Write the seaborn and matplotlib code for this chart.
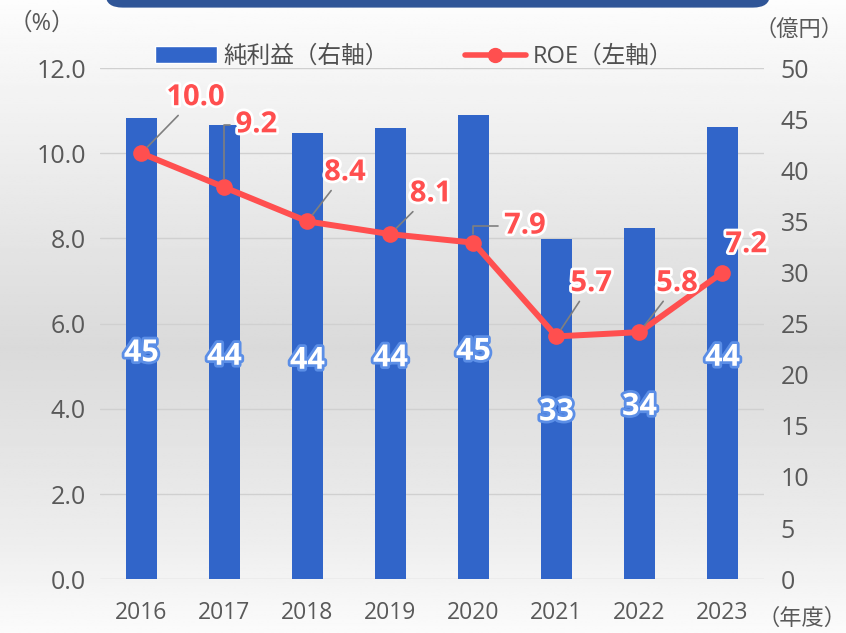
import numpy as np
import pandas as pd
import matplotlib
matplotlib.use("Agg")
import matplotlib.pyplot as plt
import matplotlib.patheffects as pe
from matplotlib.patches import FancyBboxPatch
from matplotlib.lines import Line2D
from matplotlib.patches import Patch
import seaborn as sns

# データ
years = ["2016", "2017", "2018", "2019", "2020", "2021", "2022", "2023"]
net_income = [45.1, 44.4, 43.6, 44.1, 45.4, 33.3, 34.4, 44.2]   # 億円（右軸）
roe = [10.0, 9.2, 8.4, 8.1, 7.9, 5.7, 5.8, 7.2]                  # %（左軸）

# ラベル位置のずらし（ポイント）
roe_offsets = [(39, 40), (23, 45), (27, 35), (29, 29), (37, 12), (25, 38), (27, 35), (17, 20)]
angled = [False, True, False, False, True, False, False, False]

sns.set_theme(style="white")
plt.rcParams["font.family"] = ["Open Sans", "Noto Sans CJK JP", "DejaVu Sans"]

BLUE = "#3165C9"
RED = "#FF4F4F"
GRAY = "#595959"

df = pd.DataFrame({"year": years, "income": net_income, "roe": roe})

fig = plt.figure(figsize=(8.46, 6.33), dpi=100)

# 背景グラデーション
bg = fig.add_axes([0, 0, 1, 1], zorder=-10)
grad = np.interp(np.linspace(0, 1, 300), [0, 0.12, 0.55, 0.85, 1.0], [0.99, 0.96, 0.855, 0.93, 0.985])
bg.imshow(np.repeat(grad[:, None], 2, axis=1), cmap="gray", vmin=0, vmax=1,
          aspect="auto", extent=[0, 1, 0, 1])
bg.add_patch(FancyBboxPatch((0.125, 0.988), 0.785, 0.05, boxstyle="round,pad=0,rounding_size=0.02",
                            facecolor="#2F5597", edgecolor="none", transform=bg.transAxes))
bg.set_xlim(0, 1)
bg.set_ylim(0, 1)
bg.axis("off")

ax = fig.add_axes([0.118, 0.085, 0.785, 0.8075])
ax2 = ax.twinx()

# 純利益（右軸）
sns.barplot(data=df, x="year", y="income", color=BLUE, width=0.37, saturation=1,
            linewidth=0, ax=ax2)
ax2.set_ylim(0, 50)
ax2.set_yticks(range(0, 51, 5))

# ROE（左軸）
sns.lineplot(data=df, x="year", y="roe", color=RED, linewidth=4.3, marker="o",
             markersize=12, markeredgewidth=0, ax=ax, sort=False)
ax.set_ylim(0, 12)
ax.set_yticks(np.arange(0, 12.1, 2))
ax.set_yticklabels([f"{v:.1f}" for v in np.arange(0, 12.1, 2)])
ax.set_xlim(-0.5, 7.5)

ax.set_zorder(ax2.get_zorder() + 1)
ax.patch.set_visible(False)
ax2.patch.set_visible(False)

for a in (ax, ax2):
    a.set_xlabel("")
    a.set_ylabel("")
    for s in a.spines.values():
        s.set_visible(False)
    a.tick_params(length=0, colors=GRAY, labelsize=18)

ax.tick_params(axis="y", pad=10)
ax2.tick_params(axis="y", pad=12)
ax.tick_params(axis="x", labelsize=16.5, pad=16)
for y in np.arange(0, 12.1, 2):
    ax2.axhline(y * 50 / 12, color="#d0d0d0", linewidth=1, zorder=0)

# 棒ラベル
for i, v in enumerate(net_income):
    ax2.text(i, v * 0.49, f"{v:.0f}", ha="center", va="center",
             fontsize=22, fontweight="bold", color="white",
             path_effects=[pe.withStroke(linewidth=4, foreground="#5b8ee6")], zorder=5)

# ROEラベル
for i, (v, off) in enumerate(zip(roe, roe_offsets)):
    if i == 7:
        arrow = None
    elif angled[i]:
        arrow = dict(arrowstyle="-", color="#7f7f7f", lw=1.2, shrinkA=2, shrinkB=6,
                     connectionstyle="angle,angleA=0,angleB=90,rad=0")
    else:
        arrow = dict(arrowstyle="-", color="#7f7f7f", lw=1.2, shrinkA=0, shrinkB=6)
    ax.annotate(f"{v:.1f}", xy=(i, v), xytext=off, textcoords="offset points",
                ha="center", va="center", fontsize=21, fontweight="bold", color=RED,
                arrowprops=arrow,
                path_effects=[pe.withStroke(linewidth=4, foreground="white")], zorder=6)

# 凡例
handles = [Patch(facecolor=BLUE, label="純利益（右軸）"),
           Line2D([0], [0], color=RED, lw=4, marker="o", markersize=10, label="ROE（左軸）")]
fig.legend(handles=handles, loc="center", bbox_to_anchor=(0.49, 0.91), ncol=2, frameon=False,
           fontsize=17, labelcolor="#505050", columnspacing=3.2, handlelength=2.6,
           handletextpad=0.3)

fig.text(0.05, 0.962, "（%）", fontsize=17, color=GRAY, ha="center", va="center")
fig.text(0.945, 0.952, "（億円）", fontsize=16, color=GRAY, ha="center", va="center")
fig.text(0.948, 0.022, "（年度）", fontsize=16, color=GRAY, ha="center", va="center")

fig.savefig("out.png", dpi=100)
